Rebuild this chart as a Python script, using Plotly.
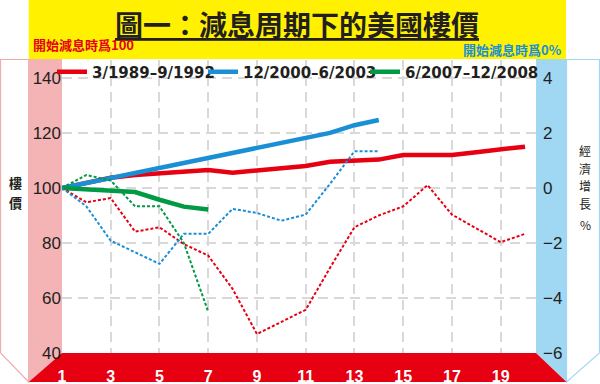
import plotly.graph_objects as go

# ---------------- data ----------------
quarters = list(range(1, 21))
x_ticks = [1, 3, 5, 7, 9, 11, 13, 15, 17, 19]
left_ticks = [40, 60, 80, 100, 120, 140]
right_ticks = [-6, -4, -2, 0, 2, 4]

series_names = ["3/1989–9/1992", "12/2000–6/2003", "6/2007–12/2008"]

# house price index (start of rate-cut cycle = 100)
price_1989 = [100, 102, 103.7, 104.7, 105.3, 106, 106.5, 105.5, 106.3, 107.3,
              108, 109.5, 110, 110.3, 112, 112, 112, 113, 114.2, 115]
price_2000 = [100, 101.8, 103.8, 105.6, 107.4, 109.2, 111, 112.8, 114.6, 116.4,
              118.3, 120, 122.8, 124.7]
price_2007 = [100, 99.5, 99, 98.5, 95.7, 93.2, 92.2]

# GDP growth, % points relative to start of cycle (right axis)
gdp_1989 = [0, -0.52, -0.37, -1.59, -1.43, -2.04, -2.46, -3.67, -5.31, -4.87,
            -4.43, -2.9, -1.43, -1.0, -0.67, 0.1, -0.97, -1.47, -1.97, -1.67]
gdp_2000 = [0, -0.67, -1.92, -2.34, -2.76, -1.67, -1.67, -0.76, -0.91, -1.19,
            -0.97, 0.15, 1.33, 1.33]
gdp_2007 = [0, 0.47, 0.27, -0.67, -0.67, -2.0, -4.5]

colors = ["#e60012", "#1a8fd6", "#009944"]

# ---------------- geometry helpers (pixel -> paper) ----------------
W, H = 600, 384
L, R, T, B = 62, 64, 60, 31
PW, PH = W - L - R, H - T - B


def px(x):
    return (x - L) / PW


def py(y):
    return (H - B - y) / PH


def path(points):
    return "M " + " L ".join(f"{px(a):.5f},{py(b):.5f}" for a, b in points) + " Z"


fig = go.Figure()

prices = [price_1989, price_2000, price_2007]
gdps = [gdp_1989, gdp_2000, gdp_2007]
legend_ids = ["legend", "legend2", "legend3"]

for name, g, c in zip(series_names, gdps, colors):
    fig.add_trace(go.Scatter(
        x=quarters[:len(g)], y=g, yaxis="y2", mode="lines",
        line=dict(color=c, width=2, dash="3px,2px"),
        showlegend=False, hoverinfo="skip"))

for name, p, c, lg in zip(series_names, prices, colors, legend_ids):
    fig.add_trace(go.Scatter(
        x=quarters[:len(p)], y=p, mode="lines", name=name, legend=lg,
        line=dict(color=c, width=4.5)))

shapes = [
    # yellow title band
    dict(type="rect", xref="paper", yref="paper", x0=px(28.7), x1=px(566),
         y0=py(59), y1=py(0), fillcolor="#fff100", line_width=0, layer="below"),
    # left white side panel
    dict(type="path", xref="paper", yref="paper",
         path=path([(0.5, 59.5), (28.7, 59.5), (28.7, 382), (0.5, 353)]),
         fillcolor="white", line=dict(color="#f4a9ab", width=1.2), layer="below"),
    # pink column
    dict(type="path", xref="paper", yref="paper",
         path=path([(28.7, 59), (62, 59), (62, 353), (28.7, 382)]),
         fillcolor="#f4b3b5", line_width=0, layer="below"),
    # blue column
    dict(type="path", xref="paper", yref="paper",
         path=path([(536, 59), (566.5, 59), (566.5, 382), (536, 353)]),
         fillcolor="#a0d7f3", line_width=0, layer="below"),
    # right white side panel
    dict(type="path", xref="paper", yref="paper",
         path=path([(566.5, 59.5), (599.5, 59.5), (599.5, 353), (566.5, 382)]),
         fillcolor="white", line=dict(color="#a0d7f3", width=1.2), layer="below"),
    # red x-axis band
    dict(type="path", xref="paper", yref="paper",
         path=path([(62, 353), (536, 353), (566.5, 382), (28.7, 382)]),
         fillcolor="#e60012", line_width=0, layer="below"),
    # white band behind the legend (hides grid there)
    dict(type="rect", xref="paper", yref="paper", x0=0, x1=1, y0=py(84), y1=1,
         fillcolor="white", line_width=0, layer="between"),
    # zero line of growth axis
    dict(type="line", xref="paper", yref="y2", x0=0, x1=1, y0=0, y1=0,
         line=dict(color="#231f20", width=1.5, dash="10px,6px"), layer="between"),
]

cjk = "Noto Sans CJK TC"
annotations = [
    dict(text="圖一：減息周期下的美國樓價", x=px(297), y=py(24), xref="paper", yref="paper",
         showarrow=False, xanchor="center", yanchor="middle",
         font=dict(family=cjk, size=28, color="#231f20", weight="bold", lineposition="under")),
    dict(text="開始減息時爲100", x=px(31), y=py(45), xref="paper", yref="paper",
         showarrow=False, xanchor="left", yanchor="middle",
         font=dict(family=cjk, size=13, color="#e60012", weight="bold")),
    dict(text="開始減息時爲0%", x=px(564), y=py(50), xref="paper", yref="paper",
         showarrow=False, xanchor="right", yanchor="middle",
         font=dict(family=cjk, size=13, color="#1a8fd6", weight="bold")),
]
# left axis title (vertical, one character per line)
for ch, yy in [("樓", 182.5), ("價", 202)]:
    annotations.append(dict(text=ch, x=px(15.5), y=py(yy), xref="paper", yref="paper",
                            showarrow=False, xanchor="center", yanchor="middle",
                            font=dict(family=cjk, size=13, color="#231f20", weight="bold")))
# right axis title (vertical, one character per line)
for ch, yy in [("經", 150.5), ("濟", 168), ("增", 185.5), ("長", 203), ("%", 225)]:
    annotations.append(dict(text=ch, x=px(585), y=py(yy), xref="paper", yref="paper",
                            showarrow=False, xanchor="center", yanchor="middle",
                            font=dict(family=cjk, size=12, color="#231f20")))

tickfont = dict(family="Liberation Sans, Arial", size=17, color="#231f20")
legfont = dict(family="DejaVu Sans", size=15, color="#231f20", weight="bold")


def legend_at(xpix):
    return dict(orientation="h", x=px(xpix), xanchor="left", y=py(72), yanchor="middle",
                bgcolor="rgba(0,0,0,0)", borderwidth=0, font=legfont)


fig.update_layout(
    width=W, height=H,
    margin=dict(l=L, r=R, t=T, b=B, pad=0, autoexpand=False),
    paper_bgcolor="white", plot_bgcolor="white",
    shapes=shapes, annotations=annotations,
    showlegend=True,
    legend=legend_at(52),
    legend2=legend_at(203),
    legend3=legend_at(365),
    xaxis=dict(range=[1, 20.45], tickvals=x_ticks, showline=False, zeroline=False,
               showgrid=True, gridcolor="#d9d9d9", gridwidth=1.5, griddash="10px,6px",
               ticks="", ticklabelstandoff=12, automargin=False,
               tickfont=dict(family="Liberation Sans, Arial", size=16, color="white", weight="bold")),
    yaxis=dict(range=[40, 146.5], tickvals=left_ticks, showline=False, zeroline=False,
               showgrid=True, gridcolor="#d9d9d9", gridwidth=1.5, griddash="10px,6px",
               ticks="", ticklabelstandoff=0, automargin=False, tickfont=tickfont),
    yaxis2=dict(range=[-6, 4.65], tickvals=right_ticks, overlaying="y", side="right",
                showline=False, zeroline=False, showgrid=False, automargin=False,
                ticks="", ticklabelstandoff=6, tickfont=tickfont),
)

fig.write_html("out.html", config={"displayModeBar": False},
               post_script="document.body.style.margin='0';")
